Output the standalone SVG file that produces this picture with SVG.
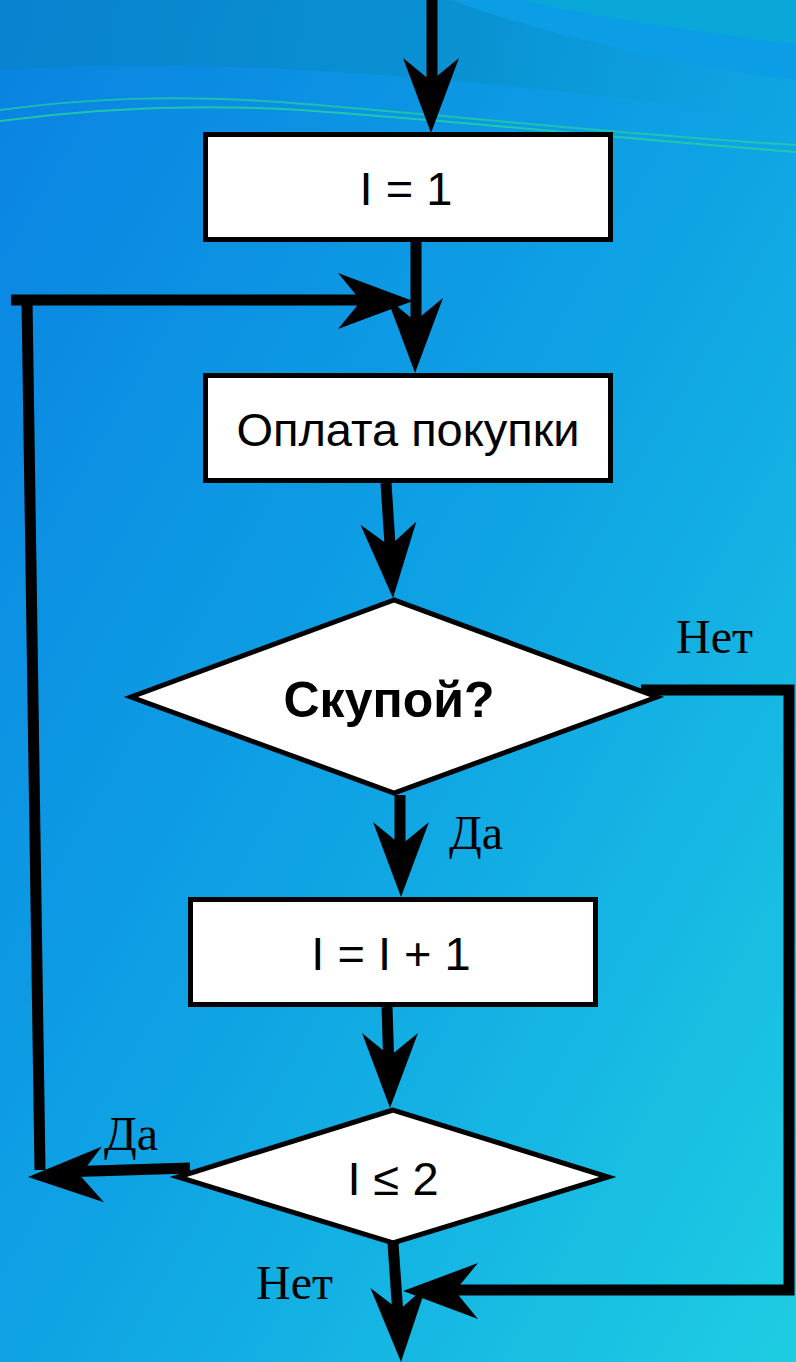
<svg xmlns="http://www.w3.org/2000/svg" width="796" height="1362" viewBox="0 0 796 1362">
<defs>
<linearGradient id="bg" x1="0" y1="0" x2="1" y2="1">
<stop offset="0" stop-color="#0a82e2"/>
<stop offset="0.5" stop-color="#0ea2e4"/>
<stop offset="1" stop-color="#1ecde2"/>
</linearGradient>
<linearGradient id="topfade" x1="0" y1="0" x2="1" y2="0">
<stop offset="0" stop-color="#0882c8" stop-opacity="0.75"/>
<stop offset="0.6" stop-color="#0890c8" stop-opacity="0.6"/>
<stop offset="1" stop-color="#0aa4d4" stop-opacity="0"/>
</linearGradient>
<path id="ah" d="M0,0 L-28,-75 L0,-52 L28,-75 Z"/>
<style>
.box{fill:#fff;stroke:#000;stroke-width:5}
.ln{fill:none;stroke:#000;stroke-width:11;stroke-linejoin:miter}
.t{font-family:"Liberation Sans",Arial,sans-serif;font-size:47px;fill:#000;text-anchor:middle}
.tb{font-family:"Liberation Sans",Arial,sans-serif;font-size:50px;font-weight:bold;fill:#000;text-anchor:middle}
.lbl{font-family:"Liberation Serif","Times New Roman",serif;font-size:48px;fill:#000}
.gl{fill:none;stroke:#24d49c;stroke-width:2}
</style>
</defs>
<g id="background">
<rect width="796" height="1362" fill="url(#bg)"/>
<path d="M0,0 V70 C200,58 420,70 796,120 V0 Z" fill="url(#topfade)"/>
<path d="M0,0 H796 V160 C700,150 640,140 796,140 Z" fill="none"/>
<path d="M452,0 C560,40 680,65 796,80 V0 Z" fill="#0b9ee6"/>
<path d="M523,0 C610,20 700,32 796,44 V0 Z" fill="#0aa8d8"/>
<path class="gl" d="M0,110 C90,98 170,95 280,102 C450,115 620,135 796,145" opacity="0.7"/>
<path class="gl" d="M0,121 C100,108 200,104 300,110 C470,122 640,140 796,152" opacity="0.8"/>
</g>
<g id="connectors">
<line class="ln" x1="432" y1="0" x2="432" y2="100"/>
<use href="#ah" transform="translate(431,133)"/>
<line class="ln" x1="416" y1="242" x2="416" y2="335"/>
<use href="#ah" transform="translate(415,373)"/>
<line class="ln" x1="11" y1="300" x2="390" y2="300"/>
<line class="ln" x1="27" y1="300" x2="40" y2="1170"/>
<use href="#ah" transform="translate(413,301) rotate(-90)"/>
<line class="ln" x1="386" y1="483" x2="391" y2="560"/>
<use href="#ah" transform="translate(393,598) rotate(-3.5)"/>
<polyline class="ln" points="641,690 789,690 789,1290 430,1290"/>
<use href="#ah" transform="translate(403,1291) rotate(90)"/>
<line class="ln" x1="400" y1="795" x2="400" y2="860"/>
<use href="#ah" transform="translate(401,897)"/>
<line class="ln" x1="387" y1="1007" x2="389" y2="1070"/>
<use href="#ah" transform="translate(390,1108)"/>
<line class="ln" x1="190" y1="1168" x2="60" y2="1172"/>
<use href="#ah" transform="translate(28,1177) rotate(88)"/>
<line class="ln" x1="393" y1="1243" x2="399" y2="1330"/>
<use href="#ah" transform="translate(401,1362) rotate(-2)"/>
</g>
<g id="n1">
<rect class="box" x="205.5" y="134.5" width="405" height="105"/>
<text class="t" x="406" y="205">I = 1</text>
</g>
<g id="n2">
<rect class="box" x="205.5" y="375.5" width="405" height="105"/>
<text class="t" x="408" y="446">Оплата покупки</text>
</g>
<g id="n3">
<polygon class="box" points="394,600 131,697 394,793 657,697"/>
<text class="tb" x="389" y="717">Скупой?</text>
</g>
<g id="n4">
<rect class="box" x="190.5" y="899.5" width="405" height="105"/>
<text class="t" x="391" y="970">I = I + 1</text>
</g>
<g id="n5">
<polygon class="box" points="393,1110 178,1177 393,1243 608,1177"/>
<text class="t" x="393" y="1195">I ≤ 2</text>
</g>
<g id="labels">
<text class="lbl" x="676" y="653">Нет</text>
<text class="lbl" x="449" y="849">Да</text>
<text class="lbl" x="104" y="1150">Да</text>
<text class="lbl" x="256" y="1299">Нет</text>
</g>
</svg>
